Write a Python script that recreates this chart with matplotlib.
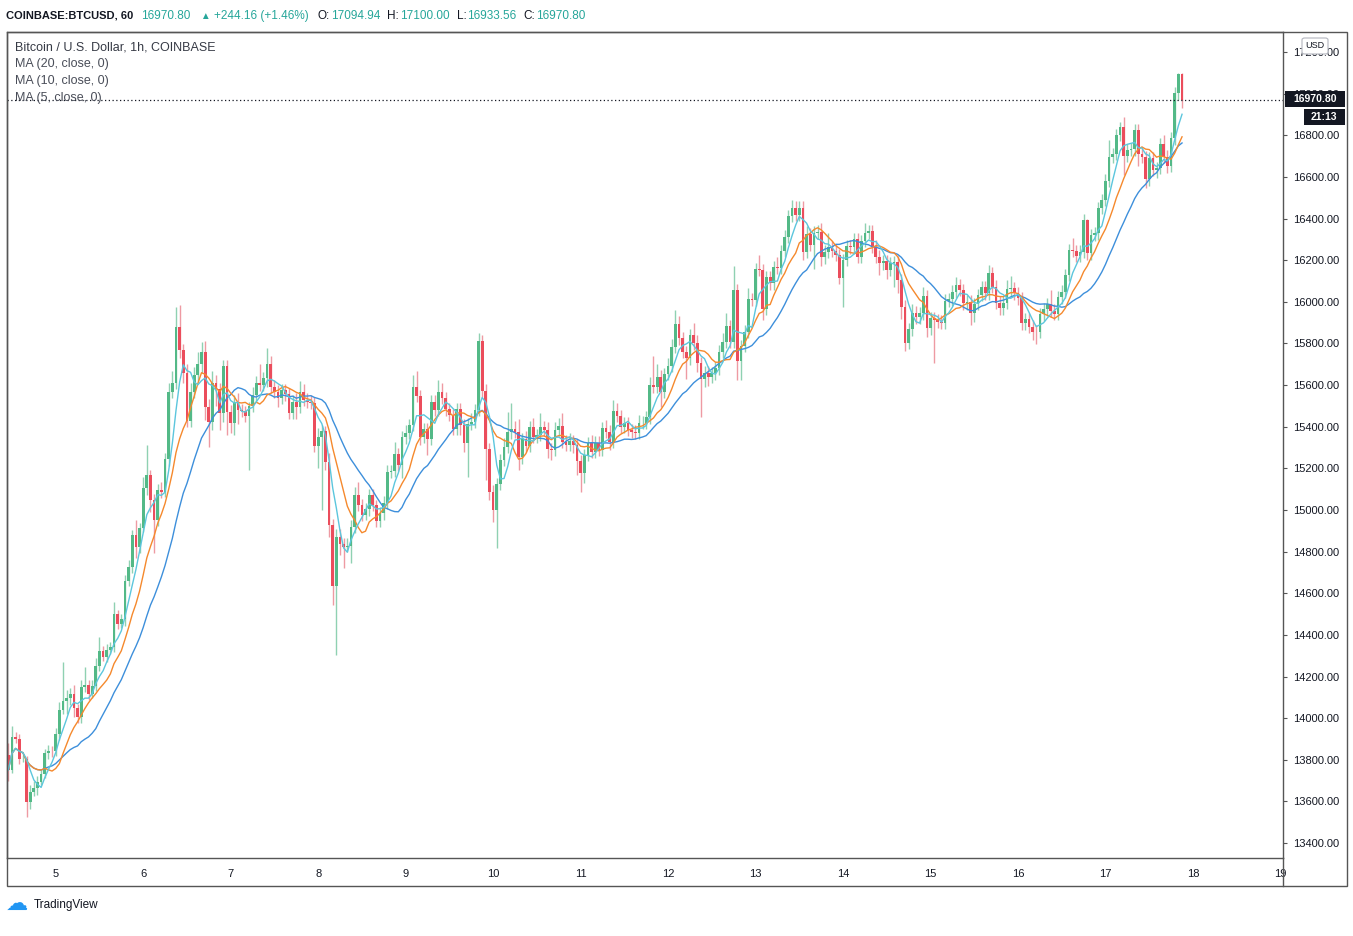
import numpy as np
import pandas as pd
import matplotlib
matplotlib.use('Agg')
import matplotlib.pyplot as plt
from matplotlib.patches import Rectangle, FancyBboxPatch
from matplotlib.lines import Line2D

plt.rcParams['font.family'] = ['Liberation Sans', 'DejaVu Sans']

# hourly BTC/USD candles, Nov 4 11:00 -> Nov 17 21:00
first_open = 13823.0
close = [
    13751, 13911, 13901, 13802, 13805, 13599, 13647, 13663, 13695, 13732,
    13831, 13844, 13840, 13924, 14039, 14082, 14095, 14116, 14047, 14007,
    14151, 14159, 14116, 14154, 14250, 14323, 14295, 14327, 14343, 14500,
    14451, 14475, 14659, 14728, 14880, 14824, 14912, 15104, 15168, 15048,
    14952, 15096, 15088, 15243, 15569, 15609, 15881, 15769, 15660, 15429,
    15569, 15649, 15700, 15761, 15493, 15425, 15609, 15580, 15465, 15692,
    15473, 15420, 15521, 15481, 15477, 15453, 15500, 15553, 15612, 15601,
    15633, 15702, 15593, 15569, 15537, 15577, 15556, 15468, 15521, 15497,
    15569, 15529, 15521, 15515, 15308, 15352, 15380, 15232, 14928, 14635,
    14869, 14835, 14821, 14827, 14920, 15072, 15024, 14976, 15003, 15072,
    15024, 14949, 14984, 15035, 15184, 15187, 15269, 15216, 15349, 15369,
    15408, 15590, 15548, 15352, 15389, 15340, 15521, 15481, 15569, 15537,
    15484, 15457, 15391, 15484, 15408, 15320, 15412, 15425, 15481, 15812,
    15573, 15293, 15088, 15000, 15125, 15240, 15304, 15373, 15388, 15376,
    15253, 15340, 15309, 15400, 15352, 15360, 15397, 15384, 15292, 15288,
    15384, 15404, 15328, 15312, 15330, 15312, 15235, 15179, 15264, 15320,
    15280, 15324, 15288, 15393, 15377, 15328, 15476, 15452, 15400, 15417,
    15384, 15377, 15372, 15417, 15420, 15445, 15601, 15590, 15641, 15569,
    15654, 15692, 15782, 15894, 15825, 15760, 15729, 15841, 15801, 15705,
    15628, 15660, 15638, 15657, 15681, 15761, 15809, 15884, 15809, 16057,
    15718, 15788, 15857, 16014, 16009, 16158, 16153, 15966, 16118, 16089,
    16166, 16162, 16245, 16313, 16413, 16453, 16418, 16453, 16241, 16326,
    16273, 16333, 16337, 16214, 16241, 16262, 16246, 16225, 16116, 16201,
    16269, 16262, 16301, 16217, 16293, 16333, 16341, 16265, 16217, 16185,
    16197, 16153, 16185, 16190, 16105, 15977, 15804, 15868, 15948, 15926,
    15945, 16028, 15873, 15921, 15913, 15905, 15900, 16006, 16012, 16049,
    16081, 16057, 15993, 16001, 15945, 15990, 16033, 16070, 16041, 16137,
    16073, 15996, 15969, 15996, 16060, 16065, 16041, 16017, 15897, 15916,
    15881, 15857, 15854, 15940, 15964, 15990, 15958, 15942, 16022, 16049,
    16129, 16249, 16245, 16220, 16241, 16393, 16233, 16321, 16329, 16450,
    16490, 16582, 16695, 16711, 16802, 16839, 16703, 16730, 16733, 16826,
    16711, 16695, 16589, 16690, 16634, 16642, 16759, 16698, 16653, 16786,
    17002, 17094.94, 16970.80,
]
# wick lengths above max(open, close) and below min(open, close)
up_wick = [
    57, 49, 20, 25, 20, 15, 30, 35, 25, 20,
    20, 25, 20, 30, 40, 189, 40, 30, 45, 20,
    30, 86, 25, 30, 40, 68, 25, 30, 25, 59,
    20, 25, 30, 30, 25, 72, 25, 56, 144, 24,
    30, 30, 40, 30, 40, 60, 96, 104, 30, 40,
    40, 40, 60, 48, 50, 40, 60, 40, 30, 29,
    30, 30, 30, 40, 30, 25, 20, 40, 30, 90,
    30, 75, 40, 30, 30, 30, 30, 30, 30, 40,
    50, 36, 35, 30, 30, 40, 30, 25, 40, 30,
    40, 40, 30, 40, 30, 40, 64, 30, 30, 30,
    30, 25, 30, 30, 30, 30, 59, 30, 30, 40,
    30, 59, 79, 30, 30, 30, 30, 30, 56, 40,
    30, 30, 30, 30, 30, 30, 30, 40, 30, 40,
    30, 30, 30, 30, 30, 30, 40, 99, 125, 40,
    60, 30, 40, 30, 40, 30, 68, 30, 40, 30,
    40, 40, 60, 30, 40, 30, 30, 30, 30, 30,
    40, 30, 30, 30, 40, 30, 53, 40, 30, 30,
    30, 30, 30, 40, 30, 30, 40, 137, 60, 30,
    30, 40, 40, 67, 40, 30, 30, 30, 56, 40,
    30, 30, 30, 30, 30, 30, 40, 61, 30, 113,
    30, 30, 30, 51, 30, 27, 67, 30, 30, 30,
    30, 51, 30, 30, 30, 37, 30, 30, 30, 40,
    30, 30, 30, 40, 30, 70, 30, 30, 30, 30,
    30, 30, 30, 30, 30, 45, 30, 30, 30, 30,
    30, 30, 30, 30, 30, 30, 30, 30, 40, 30,
    30, 45, 30, 30, 30, 30, 30, 30, 30, 32,
    40, 30, 30, 30, 30, 30, 30, 30, 30, 40,
    30, 30, 30, 30, 45, 60, 30, 30, 30, 30,
    30, 30, 30, 30, 30, 30, 67, 30, 30, 30,
    30, 30, 56, 30, 30, 30, 7, 30, 30, 30,
    30, 30, 83, 30, 30, 27, 51, 30, 30, 30,
    30, 30, 30, 30, 30, 30, 30, 43, 30, 30,
    30, 5, 5.06,
]
down_wick = [
    51, 15, 20, 20, 15, 73, 35, 20, 30, 15,
    20, 25, 25, 20, 30, 20, 60, 30, 40, 32,
    30, 25, 30, 20, 25, 25, 20, 25, 20, 25,
    25, 20, 30, 25, 30, 56, 30, 20, 30, 60,
    160, 30, 30, 25, 30, 30, 30, 40, 50, 30,
    30, 30, 30, 40, 60, 121, 40, 80, 82, 40,
    112, 50, 60, 70, 30, 30, 261, 30, 30, 30,
    30, 40, 30, 30, 40, 30, 30, 30, 31, 60,
    30, 30, 30, 30, 30, 108, 352, 40, 60, 91,
    332, 50, 100, 25, 80, 30, 30, 30, 25, 30,
    30, 30, 29, 30, 30, 30, 30, 30, 60, 30,
    30, 30, 30, 40, 30, 76, 30, 30, 30, 30,
    30, 30, 31, 30, 50, 40, 160, 30, 30, 30,
    30, 149, 40, 56, 184, 30, 30, 30, 30, 30,
    61, 30, 30, 30, 30, 30, 30, 30, 40, 50,
    30, 30, 30, 30, 30, 40, 67, 91, 51, 30,
    30, 30, 30, 30, 30, 40, 30, 30, 30, 30,
    30, 30, 30, 30, 30, 30, 30, 30, 30, 72,
    30, 30, 30, 30, 30, 30, 100, 30, 30, 40,
    183, 35, 40, 30, 30, 30, 30, 30, 30, 30,
    93, 93, 30, 30, 30, 30, 30, 53, 30, 30,
    30, 30, 30, 30, 30, 30, 30, 30, 40, 30,
    30, 116, 30, 40, 30, 30, 30, 30, 30, 139,
    30, 30, 30, 30, 30, 30, 30, 30, 30, 56,
    30, 45, 30, 112, 64, 60, 40, 30, 30, 30,
    30, 30, 40, 30, 208, 30, 30, 30, 30, 30,
    30, 30, 30, 30, 56, 40, 30, 30, 30, 30,
    30, 30, 30, 30, 30, 30, 30, 30, 30, 30,
    30, 40, 56, 30, 30, 30, 30, 30, 30, 30,
    30, 30, 30, 30, 30, 30, 30, 30, 30, 30,
    30, 30, 30, 30, 30, 30, 93, 30, 30, 30,
    60, 30, 40, 30, 30, 40, 30, 30, 35, 30,
    30, 30, 37.24,
]
start_time = '2020-11-04 11:00'
ma_periods = [20, 10, 5]
ma_colors = ['#3d8fdb', '#f5892d', '#5cc6dd']
legend_lines = ['Bitcoin / U.S. Dollar, 1h, COINBASE',
                'MA (20, close, 0)', 'MA (10, close, 0)', 'MA (5, close, 0)']
price_ticks = np.arange(13400, 17201, 200)
header_title = 'COINBASE:BTCUSD, 60'
header_change = '+244.16 (+1.46%)'
header_ohlc = [('O:', '17094.94'), ('H:', '17100.00'), ('L:', '16933.56'), ('C:', '16970.80')]
clock_label = '21:13'

up_col, dn_col = '#53b987', '#eb4d5c'
up_wick_col, dn_wick_col = '#8fd1b2', '#ee9aa3'
frame_col = '#555555'
txt_col = '#131722'
green_txt = '#26a69a'

W, H = 1353, 936
fig = plt.figure(figsize=(W / 100, H / 100), dpi=100)
fig.patch.set_facecolor('white')


def fx(x):
    return x / W


def fy(y):
    return 1 - y / H


ax = fig.add_axes([fx(7), fy(858), (1283 - 7) / W, (858 - 31.5) / H])

closes = np.array(close, dtype=float)
opens = np.r_[first_open, closes[:-1]]
highs = np.maximum(opens, closes) + np.array(up_wick)
lows = np.minimum(opens, closes) - np.array(down_wick)
times = pd.date_range(start_time, periods=len(closes), freq='h')
t = ((times - pd.Timestamp('2020-11-05')) / pd.Timedelta(hours=1)).to_numpy()

up = closes >= opens
dn = ~up
ax.vlines(t[up], lows[up], highs[up], color=up_wick_col, lw=1, zorder=2)
ax.vlines(t[dn], lows[dn], highs[dn], color=dn_wick_col, lw=1, zorder=2)
body_bot = np.minimum(opens, closes)
body_h = np.maximum(np.abs(closes - opens), 3)
ax.bar(t[up], body_h[up], bottom=body_bot[up], width=0.75, color=up_col, lw=0, zorder=3)
ax.bar(t[dn], body_h[dn], bottom=body_bot[dn], width=0.75, color=dn_col, lw=0, zorder=3)

s = pd.Series(closes)
for n, col in zip(ma_periods, ma_colors):
    ax.plot(t, s.rolling(n, min_periods=1).mean(), color=col, lw=1.0, zorder=4)

ax.axhline(closes[-1], color=txt_col, lw=0.9, ls=(0, (1, 2)), zorder=5)

ax.set_xlim(-13.36, 336.7)
ax.set_ylim(13328, 17299)
days = pd.date_range('2020-11-05', '2020-11-19', freq='D')
day_pos = ((days - pd.Timestamp('2020-11-05')) / pd.Timedelta(hours=1)).to_numpy()
ax.set_xticks(day_pos)
ax.set_xticklabels([str(d.day) for d in days])
ax.set_yticks(price_ticks)
ax.set_yticklabels(['%.2f' % p for p in price_ticks])
ax.yaxis.tick_right()
ax.tick_params(axis='y', labelsize=8, colors=txt_col, length=3, pad=4, width=0.8)
ax.tick_params(axis='y', color=frame_col)
ax.tick_params(axis='x', labelsize=8, colors=txt_col, length=0, pad=8)
for sp in ax.spines.values():
    sp.set_color(frame_col)
    sp.set_linewidth(1)

# outer frame and price-scale column
fig.patches.append(Rectangle((fx(7), fy(886)), (1347 - 7) / W, (886 - 31.5) / H,
                             transform=fig.transFigure, fill=False,
                             edgecolor=frame_col, lw=1))
fig.lines.append(Line2D([fx(1283), fx(1283)], [fy(858), fy(886)],
                        transform=fig.transFigure, color=frame_col, lw=1))

# header line, laid out piece by piece
renderer = fig.canvas.get_renderer()
hy = fy(16)
hs = 8.5
fig.text(fx(6), hy, header_title, fontsize=8, weight='bold', color=txt_col, va='center')
pieces = [('%.2f' % closes[-1], green_txt, hs, 10), ('\u25b2', green_txt, hs - 1.5, 4),
          (header_change, green_txt, hs, 9)]
for lab, val in header_ohlc:
    pieces += [(lab, txt_col, hs, 1), (val, green_txt, hs, 7)]
x_cur = 141
for txt, col, size, gap in pieces:
    tt = fig.text(fx(x_cur), hy, txt, fontsize=size, color=col, va='center')
    x_cur = tt.get_window_extent(renderer).x1 + gap

# legend block
for i, line in enumerate(legend_lines):
    fig.text(fx(15), fy(47 + 17 * i), line, fontsize=9,
             color='#363a45' if i == 0 else '#4a4e59', va='center')

# USD badge
fig.patches.append(FancyBboxPatch((fx(1302), fy(54)), fx(26), 16 / H,
                                  boxstyle='round,pad=0,rounding_size=0.002',
                                  transform=fig.transFigure, facecolor='white',
                                  edgecolor='#b2b5be', lw=0.8))
fig.text(fx(1315), fy(46), 'USD', fontsize=6.5, color=txt_col, ha='center', va='center')

# last price and countdown labels
fig.patches.append(Rectangle((fx(1285), fy(107)), fx(60), 16 / H,
                             transform=fig.transFigure, facecolor='#131722', lw=0))
fig.text(fx(1315), fy(99), '%.2f' % closes[-1], fontsize=7.5, weight='bold',
         color='white', ha='center', va='center')
fig.patches.append(Rectangle((fx(1304), fy(125)), fx(41), 16 / H,
                             transform=fig.transFigure, facecolor='#131722', lw=0))
fig.text(fx(1324), fy(117), clock_label, fontsize=7.5, weight='bold',
         color='white', ha='center', va='center')

# TradingView mark
fig.text(fx(6), fy(904), '\u2601', fontsize=16, color='#2196f3', va='center',
         family='DejaVu Sans')
fig.text(fx(34), fy(905), 'TradingView', fontsize=8.5, color=txt_col, va='center')

fig.savefig('out.png', dpi=100)
